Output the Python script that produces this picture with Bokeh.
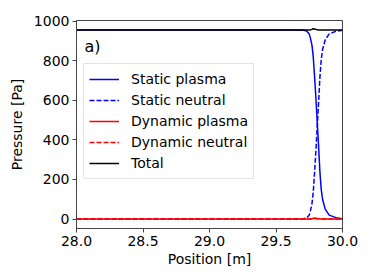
from bokeh.plotting import figure
from bokeh.models import Range1d, FixedTicker, PrintfTickFormatter, Legend, LegendItem, Label
from bokeh.embed import file_html
from bokeh.resources import INLINE

position = [28.0, 29.0, 29.70, 29.73, 29.75, 29.76, 29.77, 29.78, 29.79, 29.80, 29.81,
            29.82, 29.83, 29.84, 29.85, 29.87, 29.90, 29.95, 30.0]
static_plasma = [955, 955, 955, 950, 935, 910, 880, 820, 720, 610, 490,
                 370, 240, 150, 100, 50, 20, 7, 2]
static_neutral = [0, 0, 0, 5, 20, 45, 75, 135, 235, 345, 465,
                  585, 715, 805, 855, 905, 935, 948, 953]
dynamic_plasma = [0, 0, 0, 0, 0, 1, 2, 4, 5, 4, 3,
                  2, 1, 0, 0, 0, 0, 0, 0]
dynamic_neutral = [0, 0, 0, 0, 0, 0, 1, 2, 3, 2, 1,
                   1, 0, 0, 0, 0, 0, 0, 0]
total = [955, 955, 955, 955, 955, 956, 958, 961, 960, 958, 956,
         955, 955, 955, 955, 955, 955, 955, 955]

x_ticks = [28.0, 28.5, 29.0, 29.5, 30.0]
y_ticks = [0, 200, 400, 600, 800, 1000]

FONT = "DejaVu Sans"

p = figure(frame_width=266, frame_height=208, output_backend="svg", toolbar_location=None,
           x_range=Range1d(28.0, 30.0), y_range=Range1d(-47.75, 1002.75),
           min_border_left=76, min_border_right=30, min_border_top=20, min_border_bottom=50)
p.grid.visible = False
p.outline_line_color = "#444444"
p.outline_line_width = 1

for ax in (p.xaxis, p.yaxis):
    ax.major_label_text_font = FONT
    ax.major_label_text_font_size = "14px"
    ax.major_label_text_color = "black"
    ax.axis_label_text_font = FONT
    ax.axis_label_text_font_size = "14px"
    ax.axis_label_text_font_style = "normal"
    ax.axis_label_text_color = "black"
    ax.minor_tick_line_color = None
    ax.major_tick_in = 0
    ax.major_tick_out = 4
    ax.axis_line_color = "#444444"
    ax.major_tick_line_color = "#444444"

p.xaxis.ticker = FixedTicker(ticks=x_ticks)
p.xaxis.formatter = PrintfTickFormatter(format="%.1f")
p.yaxis.ticker = FixedTicker(ticks=y_ticks)
p.xaxis.axis_label = "Position [m]"
p.yaxis.axis_label = "Pressure [Pa]"
p.xaxis.axis_label_standoff = 2
p.yaxis.axis_label_standoff = 6
p.xaxis.major_label_standoff = 3
p.yaxis.major_label_standoff = 3

r1 = p.line(position, static_plasma, line_color="blue", line_width=1.5)
r2 = p.line(position, static_neutral, line_color="blue", line_width=1.5, line_dash="5 2")
r3 = p.line(position, dynamic_plasma, line_color="red", line_width=1.5)
r4 = p.line(position, dynamic_neutral, line_color="red", line_width=1.5, line_dash="5 2")
r5 = p.line(position, total, line_color="black", line_width=1.5)

legend = Legend(items=[
    LegendItem(label="Static plasma", renderers=[r1]),
    LegendItem(label="Static neutral", renderers=[r2]),
    LegendItem(label="Dynamic plasma", renderers=[r3]),
    LegendItem(label="Dynamic neutral", renderers=[r4]),
    LegendItem(label="Total", renderers=[r5]),
], location=(7, 49))
legend.label_text_font = FONT
legend.label_text_font_size = "14px"
legend.label_text_color = "black"
legend.glyph_width = 30
legend.glyph_height = 20
legend.label_height = 20
legend.label_standoff = 12
legend.spacing = 1
legend.padding = 5
legend.margin = 0
legend.border_line_color = "#cccccc"
legend.background_fill_alpha = 0.8
p.add_layout(legend)

p.add_layout(Label(x=28.06, y=870, text="a)", text_font=FONT, text_font_size="16px",
                   text_color="black", text_baseline="middle"))

open("out.html", "w").write(file_html(p, INLINE))
